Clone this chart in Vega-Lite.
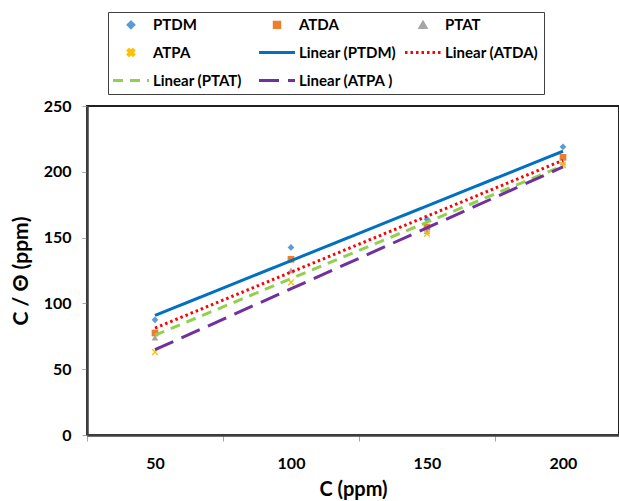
{
  "$schema": "https://vega.github.io/schema/vega-lite/v6.json",
  "autosize": {"type": "none"},
  "padding": {"left": 87, "top": 106, "right": 0, "bottom": 66},
  "width": 532,
  "height": 329,
  "background": "white",
  "config": {"view": {"stroke": "#202020", "strokeWidth": 2}, "font": "Lato"},
  "data": {"values": [
    {"C": 50, "val": 87.5, "series": "PTDM", "fit": "Linear (PTDM)"},
    {"C": 100, "val": 142.5, "series": "PTDM", "fit": "Linear (PTDM)"},
    {"C": 150, "val": 164, "series": "PTDM", "fit": "Linear (PTDM)"},
    {"C": 200, "val": 219, "series": "PTDM", "fit": "Linear (PTDM)"},
    {"C": 50, "val": 77.5, "series": "ATDA", "fit": "Linear (ATDA)"},
    {"C": 100, "val": 133.5, "series": "ATDA", "fit": "Linear (ATDA)"},
    {"C": 150, "val": 158, "series": "ATDA", "fit": "Linear (ATDA)"},
    {"C": 200, "val": 211, "series": "ATDA", "fit": "Linear (ATDA)"},
    {"C": 50, "val": 74, "series": "PTAT", "fit": "Linear (PTAT)"},
    {"C": 100, "val": 125, "series": "PTAT", "fit": "Linear (PTAT)"},
    {"C": 150, "val": 155, "series": "PTAT", "fit": "Linear (PTAT)"},
    {"C": 200, "val": 207, "series": "PTAT", "fit": "Linear (PTAT)"},
    {"C": 50, "val": 63, "series": "ATPA", "fit": "Linear (ATPA )"},
    {"C": 100, "val": 116, "series": "ATPA", "fit": "Linear (ATPA )"},
    {"C": 150, "val": 153, "series": "ATPA", "fit": "Linear (ATPA )"},
    {"C": 200, "val": 205, "series": "ATPA", "fit": "Linear (ATPA )"}
  ]},
  "encoding": {
    "x": {
      "field": "C", "type": "quantitative",
      "scale": {"domain": [25, 220.6], "nice": false, "zero": false},
      "axis": {
        "values": [25, 50, 75, 100, 125, 150, 175, 200],
        "labelExpr": "datum.value % 50 == 0 ? datum.label : ''",
        "tickOpacity": {"condition": {"test": "datum.value % 50 == 25", "value": 1}, "value": 0},
        "tickColor": "#A6A6A6", "tickSize": 6, "tickWidth": 1,
        "domainColor": "#404040", "domainWidth": 2.5, "grid": false,
        "labelFontSize": 16, "labelFontWeight": "bold", "labelColor": "black",
        "labelPadding": 14, "labelFlush": false, "labelOverlap": false,
        "title": "C (ppm)", "titleFontSize": 20, "titleFontWeight": "bold", "titleColor": "black", "titlePadding": 8
      }
    },
    "y": {
      "field": "val", "type": "quantitative",
      "scale": {"domain": [0, 250], "nice": false},
      "axis": {
        "values": [0, 50, 100, 150, 200, 250],
        "tickColor": "#A6A6A6", "tickSize": 5, "tickWidth": 1,
        "domainColor": "#404040", "domainWidth": 2.5, "grid": false,
        "labelFontSize": 16, "labelFontWeight": "bold", "labelColor": "black", "labelPadding": 11,
        "title": "C / Θ (ppm)", "titleFontSize": 21, "titleFontWeight": "bold", "titleColor": "black", "titlePadding": 12
      }
    }
  },
  "layer": [
    {
      "mark": {"type": "point", "filled": true, "opacity": 1, "strokeWidth": 0, "size": 45},
      "encoding": {
        "color": {
          "field": "series", "type": "nominal",
          "scale": {
            "domain": ["PTDM", "ATPA", "Linear (PTAT)", "ATDA", "Linear (PTDM)", "Linear (ATPA )", "PTAT", "Linear (ATDA)"],
            "range": ["#5B9BD5", "#FFC000", "#92D050", "#ED7D31", "#0070C0", "#7030A0", "#A5A5A5", "#FF0000"]
          },
          "legend": {
            "title": null, "orient": "none", "legendX": 21, "legendY": -94,
            "columns": 3, "gridAlign": "all", "columnPadding": 2, "rowPadding": 9, "padding": 5,
            "strokeColor": "#404040", "fillColor": "white",
            "symbolSize": 81, "symbolStrokeWidth": 3, "symbolOffset": 10.5,
            "labelFont": "Lato", "labelFontSize": 15, "labelFontWeight": "bold", "labelColor": "black", "labelOffset": 14.5, "labelLimit": 300,
            "encode": {"symbols": {"update": {
              "shape": {"scale": "shape", "field": "value"},
              "fill": {"signal": "indexof(['PTDM','ATDA','PTAT','ATPA'], datum.value) >= 0 ? scale('color', datum.value) : 'transparent'"},
              "stroke": {"signal": "indexof(['PTDM','ATDA','PTAT','ATPA'], datum.value) >= 0 ? 'transparent' : scale('color', datum.value)"},
              "strokeDash": {"scale": "strokeDash", "field": "value"},
              "strokeWidth": {"value": 3},
              "size": {"signal": "indexof(['PTDM','ATDA','PTAT','ATPA'], datum.value) >= 0 ? 30 : 81"},
              "opacity": {"value": 1}
            }}}
          }
        },
        "shape": {
          "field": "series", "type": "nominal",
          "scale": {
            "domain": ["PTDM", "ATPA", "Linear (PTAT)", "ATDA", "Linear (PTDM)", "Linear (ATPA )", "PTAT", "Linear (ATDA)"],
            "range": ["diamond", "M-1,-0.7L-0.7,-1L0,-0.3L0.7,-1L1,-0.7L0.3,0L1,0.7L0.7,1L0,0.3L-0.7,1L-1,0.7L-0.3,0Z", "M-4,0L4,0", "square", "M-4,0L4,0", "M-4,0L4,0", "triangle-up", "M-4,0L4,0"]
          },
          "legend": null
        }
      }
    },
    {
      "transform": [{"regression": "val", "on": "C", "groupby": ["series", "fit"]}],
      "mark": {"type": "line", "strokeWidth": 3},
      "encoding": {
        "color": {
          "field": "fit", "type": "nominal",
          "scale": {
            "domain": ["PTDM", "ATPA", "Linear (PTAT)", "ATDA", "Linear (PTDM)", "Linear (ATPA )", "PTAT", "Linear (ATDA)"],
            "range": ["#5B9BD5", "#FFC000", "#92D050", "#ED7D31", "#0070C0", "#7030A0", "#A5A5A5", "#FF0000"]
          },
          "legend": {
            "title": null, "orient": "none", "legendX": 21, "legendY": -94,
            "columns": 3, "gridAlign": "all", "columnPadding": 2, "rowPadding": 9, "padding": 5,
            "strokeColor": "#404040", "fillColor": "white",
            "symbolSize": 81, "symbolStrokeWidth": 3, "symbolOffset": 10.5,
            "labelFont": "Lato", "labelFontSize": 15, "labelFontWeight": "bold", "labelColor": "black", "labelOffset": 14.5, "labelLimit": 300,
            "encode": {"symbols": {"update": {
              "shape": {"scale": "shape", "field": "value"},
              "fill": {"signal": "indexof(['PTDM','ATDA','PTAT','ATPA'], datum.value) >= 0 ? scale('color', datum.value) : 'transparent'"},
              "stroke": {"signal": "indexof(['PTDM','ATDA','PTAT','ATPA'], datum.value) >= 0 ? 'transparent' : scale('color', datum.value)"},
              "strokeDash": {"scale": "strokeDash", "field": "value"},
              "strokeWidth": {"value": 3},
              "size": {"signal": "indexof(['PTDM','ATDA','PTAT','ATPA'], datum.value) >= 0 ? 30 : 81"},
              "opacity": {"value": 1}
            }}}
          }
        },
        "strokeDash": {
          "field": "fit", "type": "nominal",
          "scale": {
            "domain": ["PTDM", "ATPA", "Linear (PTAT)", "ATDA", "Linear (PTDM)", "Linear (ATPA )", "PTAT", "Linear (ATDA)"],
            "range": [[1, 0], [1, 0], [10, 7], [1, 0], [1, 0], [20, 9], [1, 0], [2.5, 3]]
          },
          "legend": null
        }
      }
    }
  ]
}
